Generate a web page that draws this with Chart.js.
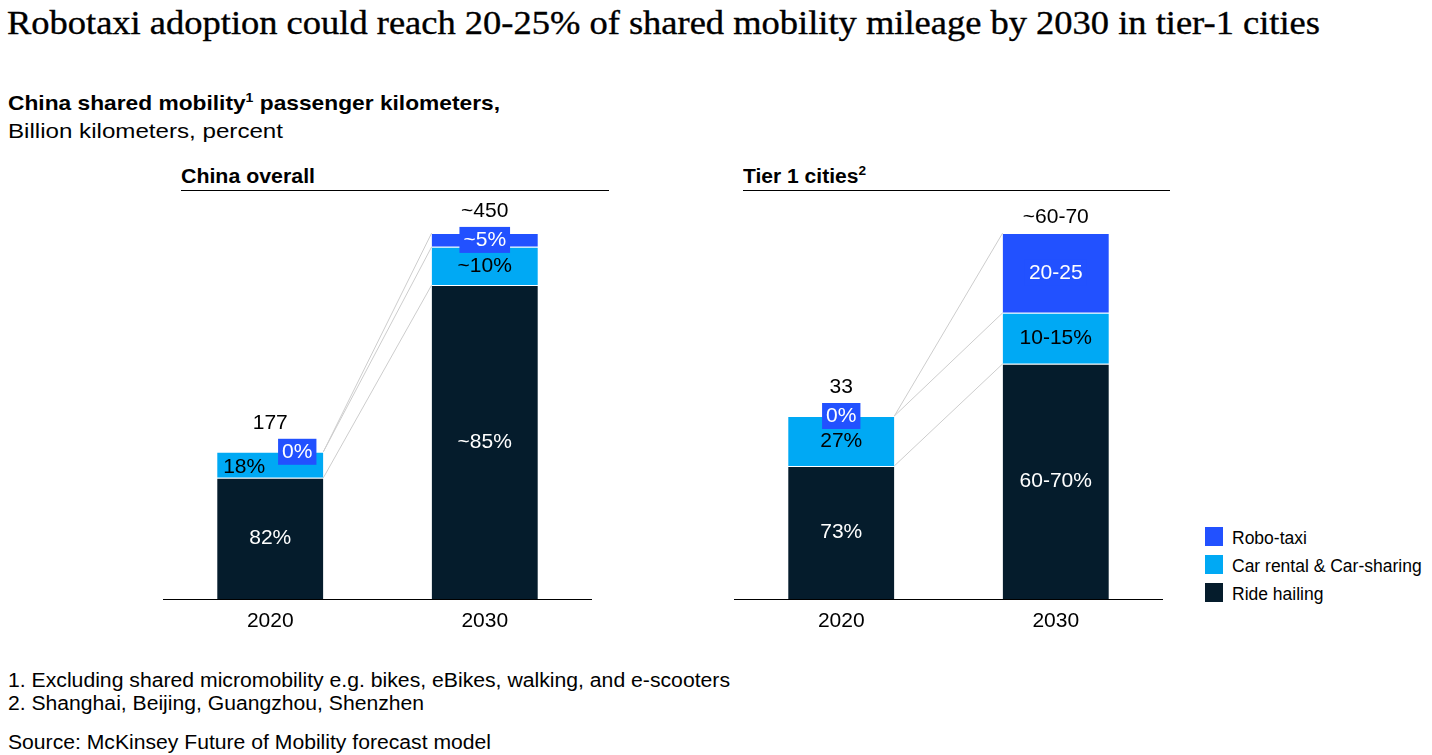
<!DOCTYPE html>
<html>
<head>
<meta charset="utf-8">
<script src="https://cdn.jsdelivr.net/npm/chart.js@4.4.1/dist/chart.umd.min.js"></script>
<style>
body { margin: 0; background: #fff; font-family: "Liberation Sans", Arial, sans-serif; color: #000; }
#page { position: relative; width: 1432px; height: 755px; overflow: hidden; background: #fff; }
.abs { position: absolute; white-space: nowrap; line-height: 1; transform-origin: 0 0; }
sup { font-size: 13px; line-height: 0; vertical-align: 8px; }
.rule { position: absolute; height: 1px; background: #000; }
.box { position: absolute; }
.legend-item { position: absolute; left: 1205px; font-size: 17.5px; line-height: 1; white-space: nowrap; }
.legend-item span { position: absolute; left: 0; top: 0; width: 18px; height: 19px; }
.legend-item b { position: absolute; left: 27px; top: 3px; font-weight: normal; }
</style>
</head>
<body>
<div id="page">
    <div class="abs" data-right="1320" style="left:7px; top:7px; font-family:'Liberation Serif', serif; font-size:33px; -webkit-text-stroke:0.35px #000;">Robotaxi adoption could reach 20-25% of shared mobility mileage by 2030 in tier-1 cities</div>
    <div class="abs" data-right="500" style="left:8px; top:92px; font-size:21px; font-weight:bold;">China shared mobility<sup>1</sup> passenger kilometers,</div>
    <div class="abs" data-right="283" style="left:8px; top:120px; font-size:21px;">Billion kilometers, percent</div>

    <div class="abs" data-right="315" style="left:181px; top:166px; font-size:20px; font-weight:bold;">China overall</div>
    <div class="rule" style="left:181px; top:190px; width:428px;"></div>
    <div class="abs" data-right="866" style="left:743px; top:166px; font-size:20px; font-weight:bold;">Tier 1 cities<sup>2</sup></div>
    <div class="rule" style="left:743px; top:190px; width:427px;"></div>

    <div class="box" style="left:163px; top:190px; width:429px; height:454px;"><canvas id="chinaChart" width="429" height="454"></canvas></div>
    <div class="box" style="left:734px; top:190px; width:429px; height:454px;"><canvas id="tierChart" width="429" height="454"></canvas></div>

    <div id="legend"></div>

    <div class="abs" data-right="730" style="left:8px; top:671px; font-size:19.5px;">1. Excluding shared micromobility e.g. bikes, eBikes, walking, and e-scooters</div>
    <div class="abs" data-right="424" style="left:8px; top:694px; font-size:19.5px;">2. Shanghai, Beijing, Guangzhou, Shenzhen</div>
    <div class="abs" data-right="491" style="left:8px; top:733px; font-size:19.5px;">Source: McKinsey Future of Mobility forecast model</div>
</div>
<script>
var years = ['2020', '2030'];
var seriesNames = ['Ride hailing', 'Car rental & Car-sharing', 'Robo-taxi'];
var seriesColors = ['#051C2C', '#00A9F4', '#2251FF'];

// China overall, billion km
var chinaRide = [149, 386];
var chinaRental = [32, 47];
var chinaRobo = [0, 17];
var chinaMax = 450;
var chinaTotals = ['177', '~450'];
var chinaRideLbl = ['82%', '~85%'];
var chinaRentalLbl = ['18%', '~10%'];
var chinaRoboLbl = ['0%', '~5%'];

// Tier 1 cities, billion km
var tierRide = [24, 42.4];
var tierRental = [9, 9.2];
var tierRobo = [0, 14.4];
var tierMax = 66;
var tierTotals = ['33', '~60-70'];
var tierRideLbl = ['73%', '60-70%'];
var tierRentalLbl = ['27%', '10-15%'];
var tierRoboLbl = ['0%', '20-25'];

Chart.defaults.font.family = '"Liberation Sans", Arial, sans-serif';
Chart.defaults.color = '#000';

var panelMarks = {
    id: 'panelMarks',
    beforeDatasetsDraw: function (chart) {
        // grey connectors from the 2020 bar to the 2030 bar
        var c = chart.ctx;
        c.save();
        c.strokeStyle = '#cdcdcd';
        c.lineWidth = 1;
        chart.data.datasets.forEach(function (ds, k) {
            var a = chart.getDatasetMeta(k).data[0];
            var b = chart.getDatasetMeta(k).data[1];
            c.beginPath();
            c.moveTo(a.x + a.width / 2, a.y);
            c.lineTo(b.x - b.width / 2, b.y);
            c.stroke();
        });
        c.restore();
    },
    afterDatasetsDraw: function (chart, args, opts) {
        var c = chart.ctx;
        c.save();
        c.font = '21px "Liberation Sans", Arial, sans-serif';
        c.textBaseline = 'middle';
        for (var i = 0; i < years.length; i++) {
            var top = Infinity;
            for (var k = 0; k < 3; k++) {
                var el = chart.getDatasetMeta(k).data[i];
                var txt = opts.seg[k][i];
                var h = el.base - el.y;
                var cx = el.x, cy = (el.y + el.base) / 2;
                top = Math.min(top, el.y);
                if (k === 2) {
                    // robo-taxi share sits in a blue tag
                    var w = c.measureText(txt).width + 8;
                    if (h < 1) {
                        cy = el.y;
                        if (opts.crowded[i]) cx += 27;
                    }
                    c.fillStyle = seriesColors[2];
                    c.fillRect(cx - w / 2, cy - 13, w, 26);
                    top = Math.min(top, cy - 13);
                    c.fillStyle = '#fff';
                    c.textAlign = 'center';
                    c.fillText(txt, cx, cy);
                } else {
                    c.fillStyle = k === 0 ? '#fff' : '#000';
                    if (k === 1 && opts.crowded[i]) {
                        c.textAlign = 'left';
                        c.fillText(txt, el.x - el.width / 2 + 6, cy + 2);
                    } else {
                        c.textAlign = 'center';
                        c.fillText(txt, cx, cy);
                    }
                }
            }
            c.fillStyle = '#000';
            c.textAlign = 'center';
            c.fillText(opts.totals[i], chart.getDatasetMeta(0).data[i].x, top - 16);
        }
        c.restore();
    }
};

function makeChart(id, ride, rental, robo, max, segLabels, totals, crowded) {
    var ctx = document.getElementById(id).getContext('2d');
    return new Chart(ctx, {
        type: 'bar',
        data: {
            labels: years,
            datasets: [ride, rental, robo].map(function (d, k) {
                return {
                    label: seriesNames[k],
                    data: d,
                    backgroundColor: seriesColors[k],
                    borderColor: '#fff',
                    borderWidth: { top: 1, left: 0, right: 0, bottom: 0 },
                    barPercentage: 0.495,
                    categoryPercentage: 1
                };
            })
        },
        options: {
            responsive: false,
            animation: false,
            layout: { padding: { top: 43, left: 0, right: 0, bottom: 0 } },
            plugins: {
                legend: { display: false },
                tooltip: { enabled: false },
                panelMarks: { seg: segLabels, totals: totals, crowded: crowded }
            },
            scales: {
                x: {
                    stacked: true,
                    grid: { display: false, drawTicks: false },
                    border: { display: true, color: '#000', width: 1 },
                    ticks: { color: '#000', padding: 10, font: { size: 21, lineHeight: '25px' } }
                },
                y: { stacked: true, display: false, min: 0, max: max }
            }
        },
        plugins: [panelMarks]
    });
}

makeChart('chinaChart', chinaRide, chinaRental, chinaRobo, chinaMax,
    [chinaRideLbl, chinaRentalLbl, chinaRoboLbl], chinaTotals, [true, false]);
makeChart('tierChart', tierRide, tierRental, tierRobo, tierMax,
    [tierRideLbl, tierRentalLbl, tierRoboLbl], tierTotals, [false, false]);

// legend, top entry = top of the stack
var legend = document.getElementById('legend');
var legendTops = [527, 555, 583];
[2, 1, 0].forEach(function (k, n) {
    var item = document.createElement('div');
    item.className = 'legend-item';
    item.style.top = legendTops[n] + 'px';
    item.innerHTML = '<span style="background:' + seriesColors[k] + '"></span><b></b>';
    item.querySelector('b').textContent = seriesNames[k];
    legend.appendChild(item);
});

// the original text runs a bit wider, stretch each line to its right edge
document.querySelectorAll('[data-right]').forEach(function (el) {
    var r = el.getBoundingClientRect();
    var want = +el.getAttribute('data-right') - r.left;
    el.style.transform = 'scaleX(' + (want / r.width) + ')';
});
</script>
</body>
</html>
